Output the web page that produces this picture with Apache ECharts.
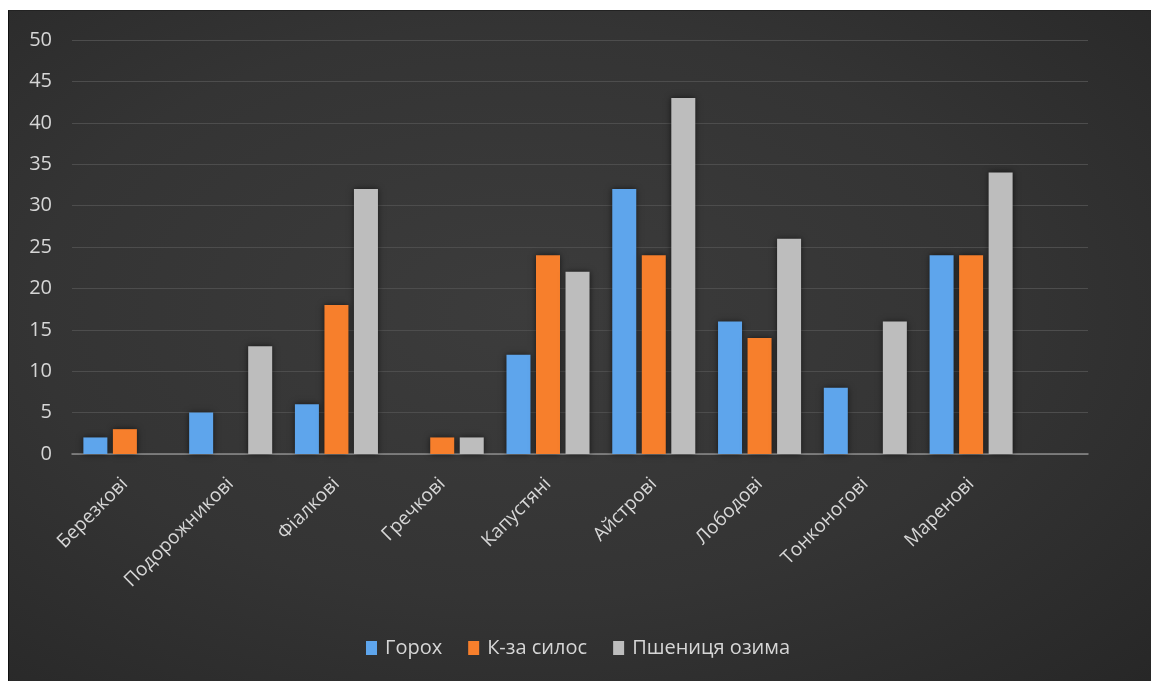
<!DOCTYPE html>
<html>
<head>
<meta charset="utf-8">
<script src="https://cdn.jsdelivr.net/npm/echarts@6/dist/echarts.min.js"></script>
<style>
  html, body { margin: 0; padding: 0; background: #ffffff; width: 1151px; height: 681px; overflow: hidden; }
  #chart {
    position: absolute;
    left: 8px;
    top: 10px;
    width: 1143px;
    height: 671px;
    background: radial-gradient(ellipse at 45% 45%, #3c3c3c 0%, #343434 55%, #272727 100%);
    border-left: 1px solid #111;
    border-top: 1px solid #222;
    box-sizing: border-box;
  }
</style>
</head>
<body>
<div id="chart"></div>
<script>
const categories = ['Березкові', 'Подорожникові', 'Фіалкові', 'Гречкові', 'Капустяні', 'Айстрові', 'Лободові', 'Тонконогові', 'Маренові'];
const seriesNames = ['Горох', 'К-за силос', 'Пшениця озима'];
const peas = [2, 5, 6, 0, 12, 32, 16, 8, 24];
const cornSilage = [3, 0, 18, 2, 24, 24, 14, 0, 24];
const winterWheat = [0, 13, 32, 2, 22, 43, 26, 16, 34];
const yTicks = { min: 0, max: 50, interval: 5 };

const colors = ['#5ea5ec', '#f77f2c', '#bdbdbd'];
const textColor = '#d6d6d6';
const fontFamily = 'Open Sans, sans-serif';

const chart = echarts.init(document.getElementById('chart'));

const barSeries = [peas, cornSilage, winterWheat].map((values, i) => ({
  name: seriesNames[i],
  type: 'bar',
  xAxisIndex: 0,
  yAxisIndex: 0,
  data: values,
  barWidth: 24,
  barGap: '23%',
  itemStyle: {
    color: colors[i],
    shadowBlur: 6,
    shadowColor: 'rgba(0,0,0,0.6)'
  }
}));

chart.setOption({
  backgroundColor: 'transparent',
  animation: false,
  textStyle: { fontFamily: fontFamily },
  legend: {
    data: seriesNames,
    top: 622,
    left: 352,
    itemWidth: 11,
    itemHeight: 14,
    itemGap: 26,
    icon: 'rect',
    textStyle: { color: textColor, fontSize: 20, fontFamily: fontFamily, padding: [0, 0, 0, 3] }
  },
  grid: [
    { left: 63, top: 29, width: 952, height: 414 },
    { left: 63, top: 29, width: 1016, height: 414 }
  ],
  xAxis: [
    {
      type: 'category',
      gridIndex: 0,
      data: categories,
      axisLine: { show: false },
      axisTick: { show: false },
      axisLabel: {
        color: textColor,
        fontSize: 19,
        rotate: 45,
        interval: 0,
        margin: 27,
        fontFamily: fontFamily
      }
    },
    {
      type: 'value',
      gridIndex: 1,
      min: 0,
      max: 1,
      axisLine: { show: true, lineStyle: { color: '#8c8c8c', width: 1.5 } },
      axisTick: { show: false },
      axisLabel: { show: false },
      splitLine: { show: false }
    }
  ],
  yAxis: [
    {
      type: 'value',
      gridIndex: 0,
      min: yTicks.min,
      max: yTicks.max,
      interval: yTicks.interval,
      axisLine: { show: false },
      axisTick: { show: false },
      splitLine: { show: false },
      axisLabel: { color: textColor, fontSize: 20, margin: 20, fontFamily: fontFamily }
    },
    {
      type: 'value',
      gridIndex: 1,
      min: yTicks.min,
      max: yTicks.max,
      interval: yTicks.interval,
      axisLine: { show: false },
      axisTick: { show: false },
      axisLabel: { show: false },
      splitLine: { show: true, lineStyle: { color: '#4d4d4d', width: 1 } }
    }
  ],
  series: barSeries
});
</script>
</body>
</html>
